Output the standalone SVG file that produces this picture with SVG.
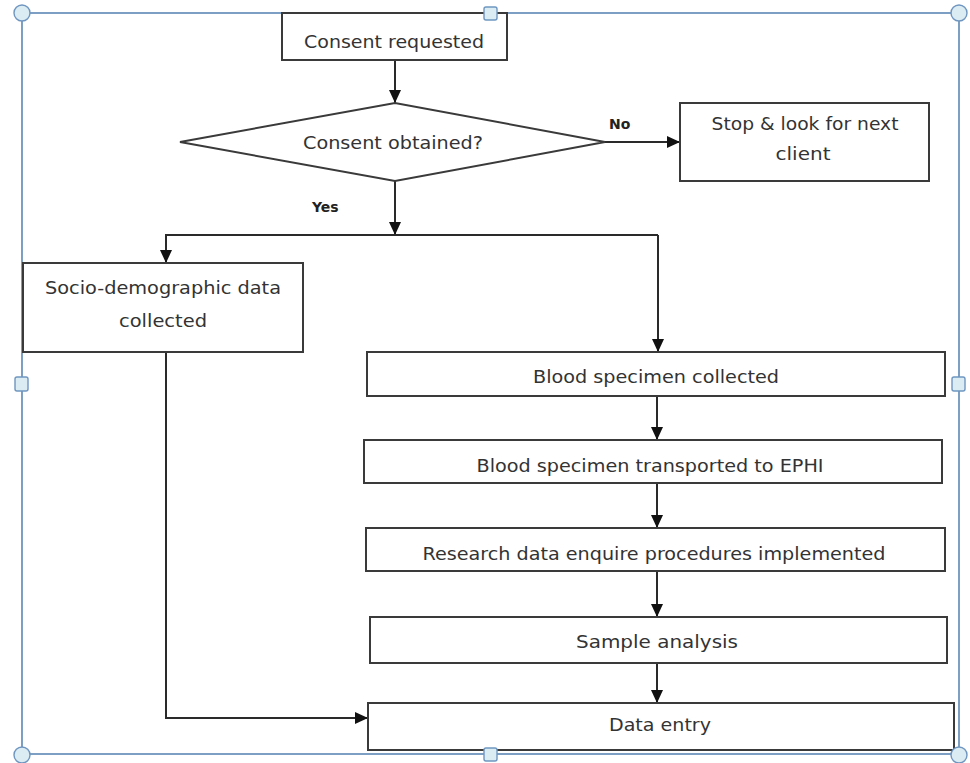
<svg xmlns="http://www.w3.org/2000/svg" width="970" height="763" viewBox="0 0 970 763">
<defs>
<marker id="ah" viewBox="0 0 13 12" refX="13" refY="6" markerWidth="13" markerHeight="12" markerUnits="userSpaceOnUse" orient="auto">
<path d="M0,0 L13,6 L0,12 Z" fill="#111"/>
</marker>
<style>
.box{fill:#fff;stroke:#3a3a3a;stroke-width:2}
.ln{fill:none;stroke:#2a2a2a;stroke-width:2}
.t{font-family:"DejaVu Sans",sans-serif;font-size:18px;fill:#333;text-anchor:middle}
.lab{font-family:"DejaVu Sans",sans-serif;font-size:14px;fill:#222;font-weight:bold}
.frame{fill:none;stroke:#5d87b6;stroke-width:1.6}
.hc{fill:#dcecf3;stroke:#6f96c0;stroke-width:1.4}
.hs{fill:#dcecf3;stroke:#6f96c0;stroke-width:1.4}
</style>
</defs>
<rect x="22" y="13" width="937" height="741" fill="#fff"/>
<rect class="frame" x="22" y="13" width="937" height="741"/>
<g id="connectors">
<line class="ln" x1="395" y1="60" x2="395" y2="103" marker-end="url(#ah)"/>
<line class="ln" x1="605" y1="142" x2="680" y2="142" marker-end="url(#ah)"/>
<line class="ln" x1="395" y1="181" x2="395" y2="235" marker-end="url(#ah)"/>
<polyline class="ln" points="166,250 166,235 658,235"/>
<line class="ln" x1="166" y1="236" x2="166" y2="263" marker-end="url(#ah)"/>
<line class="ln" x1="658" y1="235" x2="658" y2="352" marker-end="url(#ah)"/>
<line class="ln" x1="657" y1="396" x2="657" y2="440" marker-end="url(#ah)"/>
<line class="ln" x1="657" y1="483" x2="657" y2="528" marker-end="url(#ah)"/>
<line class="ln" x1="657" y1="571" x2="657" y2="617" marker-end="url(#ah)"/>
<line class="ln" x1="657" y1="663" x2="657" y2="703" marker-end="url(#ah)"/>
<polyline class="ln" points="166,352 166,718 368,718" marker-end="url(#ah)"/>
</g>
<g id="consent-requested">
<rect class="box" x="282" y="13" width="225" height="47"/>
<text class="t" x="394" y="48" textLength="180" lengthAdjust="spacingAndGlyphs">Consent requested</text>
</g>
<g id="consent-obtained">
<polygon class="box" points="180,142 395,103 605,142 395,181"/>
<text class="t" x="393" y="149" textLength="180" lengthAdjust="spacingAndGlyphs">Consent obtained?</text>
</g>
<g id="label-no"><text class="lab" x="609" y="129">No</text></g>
<g id="label-yes"><text class="lab" x="312" y="212">Yes</text></g>
<g id="stop">
<rect class="box" x="680" y="103" width="249" height="78"/>
<text class="t" x="805" y="130" textLength="187" lengthAdjust="spacingAndGlyphs">Stop &amp; look for next</text>
<text class="t" x="803" y="160" textLength="55" lengthAdjust="spacingAndGlyphs">client</text>
</g>
<g id="socio">
<rect class="box" x="23" y="263" width="280" height="89"/>
<text class="t" x="163" y="294" textLength="236" lengthAdjust="spacingAndGlyphs">Socio-demographic data</text>
<text class="t" x="163" y="327" textLength="88" lengthAdjust="spacingAndGlyphs">collected</text>
</g>
<g id="blood-collected">
<rect class="box" x="367" y="352" width="578" height="44"/>
<text class="t" x="656" y="383" textLength="246" lengthAdjust="spacingAndGlyphs">Blood specimen collected</text>
</g>
<g id="blood-transported">
<rect class="box" x="364" y="440" width="578" height="43"/>
<text class="t" x="650" y="472" textLength="347" lengthAdjust="spacingAndGlyphs">Blood specimen transported to EPHI</text>
</g>
<g id="research">
<rect class="box" x="366" y="528" width="579" height="43"/>
<text class="t" x="654" y="560" textLength="463" lengthAdjust="spacingAndGlyphs">Research data enquire procedures implemented</text>
</g>
<g id="sample">
<rect class="box" x="370" y="617" width="577" height="46"/>
<text class="t" x="657" y="648" textLength="162" lengthAdjust="spacingAndGlyphs">Sample analysis</text>
</g>
<g id="data-entry">
<rect class="box" x="368" y="703" width="586" height="47"/>
<text class="t" x="660" y="731" textLength="102" lengthAdjust="spacingAndGlyphs">Data entry</text>
</g>
<g id="handles">
<circle class="hc" cx="22" cy="13" r="8"/>
<circle class="hc" cx="959" cy="13" r="8"/>
<circle class="hc" cx="22" cy="755" r="8"/>
<circle class="hc" cx="959" cy="755" r="8"/>
<rect class="hs" x="484" y="7" width="13" height="13" rx="2"/>
<rect class="hs" x="484" y="748" width="13" height="13" rx="2"/>
<rect class="hs" x="15" y="377" width="13" height="14" rx="2"/>
<rect class="hs" x="952" y="377" width="13" height="14" rx="2"/>
</g>
</svg>
